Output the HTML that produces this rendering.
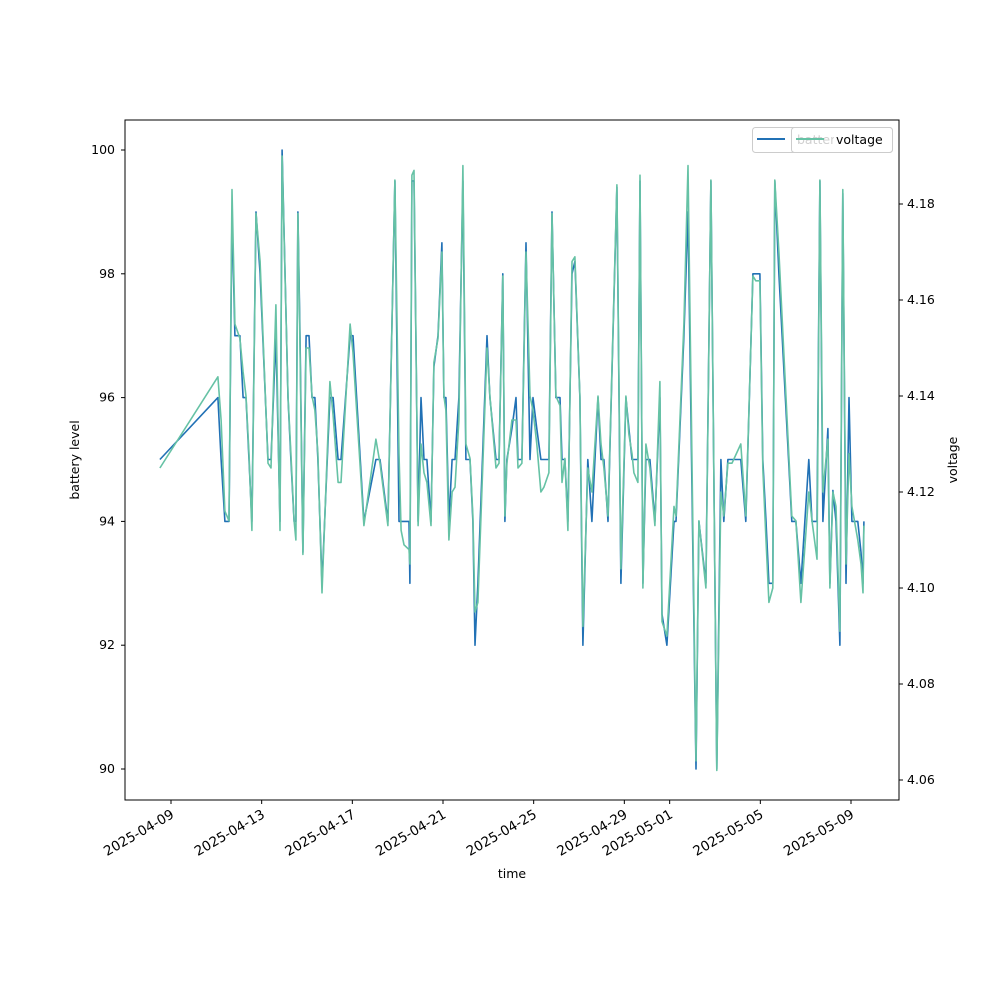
<!DOCTYPE html>
<html><head><meta charset="utf-8"><style>
body{margin:0;background:#fff;font-family:"Liberation Sans","DejaVu Sans",sans-serif}
svg text{font-family:"DejaVu Sans","Liberation Sans",sans-serif;font-size:12.5px;fill:#000}
svg text.xt{font-size:13.5px}
</style></head><body>
<svg id="chart" width="1000" height="1000" viewBox="0 0 1000 1000">
<rect x="0" y="0" width="1000" height="1000" fill="#fff"/>
<g id="series"></g>
<g id="axes"></g>
<rect x="125" y="120" width="774" height="680" fill="none" stroke="#000" stroke-width="1"/>
<text x="512" y="878" text-anchor="middle">time</text>
<text transform="translate(79,460) rotate(-90)" text-anchor="middle">battery level</text>
<text transform="translate(957,460) rotate(-90)" text-anchor="middle">voltage</text>
<g>
<rect x="752.5" y="127.5" width="140" height="25" rx="3" fill="#fff" fill-opacity="0.8" stroke="#ccc"/>
<line x1="757" y1="139" x2="785" y2="139" stroke="#2171b5" stroke-width="2"/>
<rect x="791.5" y="127.5" width="101" height="25" rx="3" fill="#fff" fill-opacity="0.8" stroke="#ccc"/>
<text x="797" y="144" style="fill:#d0d0d0">battery_level</text>
<line x1="796" y1="139" x2="824" y2="139" stroke="#66c2a5" stroke-width="2"/>
<rect x="834" y="130" width="56" height="19" fill="#fff"/>
<text x="836" y="144">voltage</text>
</g>
</svg>
<script>
const days=[8.51,11.07,11.21,11.38,11.56,11.69,11.82,12.04,12.18,12.31,12.44,12.57,12.75,12.93,13.28,13.41,13.63,13.81,13.90,14.16,14.29,14.43,14.51,14.60,14.69,14.82,14.96,15.09,15.22,15.35,15.48,15.66,16.01,16.15,16.37,16.50,16.90,17.03,17.51,18.04,18.22,18.57,18.88,19.06,19.15,19.28,19.50,19.54,19.63,19.72,19.90,20.03,20.16,20.29,20.47,20.60,20.78,20.95,21.04,21.13,21.26,21.40,21.53,21.70,21.88,22.01,22.19,22.32,22.41,22.54,22.94,23.07,23.34,23.47,23.64,23.73,23.82,24.04,24.22,24.31,24.48,24.66,24.84,24.97,25.14,25.32,25.45,25.67,25.81,25.98,26.16,26.25,26.38,26.51,26.69,26.82,27.04,27.17,27.39,27.57,27.84,27.97,28.10,28.28,28.67,28.85,29.07,29.20,29.34,29.42,29.60,29.69,29.82,29.95,30.13,30.35,30.57,30.66,30.88,31.19,31.28,31.63,31.81,32.16,32.29,32.60,32.82,33.08,33.26,33.39,33.57,33.75,34.14,34.36,34.67,34.80,34.98,35.11,35.25,35.38,35.55,35.64,35.82,36.39,36.57,36.79,37.14,37.28,37.50,37.63,37.76,37.98,38.07,38.20,38.34,38.51,38.64,38.78,38.91,39.04,39.30,39.44,39.53,39.57];
const battery=[95,96,95,94,94,99,97,97,96,96,95,94,99,98,95,95,97,94,100,96,95,94,94,99,97,93.5,97,97,96,96,95,93,96,96,95,95,97,97,94,95,95,94,99.5,94,94,94,94,93,99.5,99.5,94,96,95,95,94,96.5,97,98.5,96,96,94,95,95,96,99.5,95,95,94,92,93,97,96,95,95,98,94,95,95.5,96,95,95,98.5,95,96,95.5,95,95,95,99,96,96,95,95,94,98,98.2,96,92,95,94,96,95,95,94,99.4,93,96,95.5,95,95,95,99.5,93,95,95,94,96,92.5,92,94,94,97,99,90,94,93,99.5,90,95,94,95,95,95,94,98,98,98,95,94,93,93,99.5,98,94,94,93,95,94,94,99.5,94,95.5,93,94.5,94,92,99.3,93,96,94,94,93.5,93,94];
const voltage=[4.125,4.144,4.135,4.116,4.114,4.183,4.155,4.152,4.145,4.140,4.128,4.112,4.178,4.168,4.126,4.125,4.159,4.112,4.190,4.140,4.128,4.114,4.110,4.178,4.150,4.107,4.150,4.150,4.140,4.137,4.128,4.099,4.143,4.136,4.122,4.122,4.155,4.149,4.113,4.131,4.126,4.113,4.185,4.128,4.112,4.109,4.108,4.105,4.186,4.187,4.113,4.130,4.124,4.122,4.113,4.147,4.152,4.170,4.140,4.137,4.110,4.120,4.121,4.135,4.188,4.130,4.127,4.115,4.095,4.097,4.150,4.140,4.125,4.126,4.165,4.115,4.126,4.135,4.135,4.125,4.126,4.170,4.140,4.137,4.130,4.120,4.121,4.124,4.178,4.140,4.138,4.122,4.127,4.112,4.168,4.169,4.140,4.092,4.125,4.120,4.140,4.130,4.125,4.115,4.184,4.104,4.140,4.132,4.128,4.124,4.122,4.186,4.100,4.130,4.125,4.113,4.143,4.093,4.090,4.117,4.115,4.155,4.188,4.064,4.114,4.100,4.185,4.062,4.120,4.115,4.126,4.126,4.130,4.115,4.165,4.164,4.164,4.125,4.110,4.097,4.100,4.185,4.170,4.115,4.114,4.097,4.120,4.114,4.106,4.185,4.120,4.131,4.100,4.120,4.117,4.091,4.183,4.105,4.128,4.117,4.110,4.105,4.099,4.113];
const xTickDays=[9,13,17,21,25,29,31,35,39];
const xTickLabels=["2025-04-09","2025-04-13","2025-04-17","2025-04-21","2025-04-25","2025-04-29","2025-05-01","2025-05-05","2025-05-09"];
const leftTicks=[90,92,94,96,98,100];
const rightTicks=[4.06,4.08,4.10,4.12,4.14,4.16,4.18];

const NS="http://www.w3.org/2000/svg";
const xScale=d=>171+(d-9)*(680/30);
const yLeft=b=>150+(100-b)*61.9;
const yRight=v=>204+(4.18-v)*4800;
const ser=document.getElementById('series'),ax=document.getElementById('axes');
function mk(tag,attrs,parent){const e=document.createElementNS(NS,tag);for(const k in attrs)e.setAttribute(k,attrs[k]);parent.appendChild(e);return e;}
const bp=mk('polyline',{points:days.map((d,i)=>xScale(d).toFixed(1)+','+yLeft(battery[i]).toFixed(1)).join(' '),fill:'none',stroke:'#2171b5','stroke-width':1.6,'stroke-linejoin':'round'},ser);


const vp=mk('polyline',{points:days.map((d,i)=>xScale(d).toFixed(1)+','+yRight(voltage[i]).toFixed(1)).join(' '),fill:'none',stroke:'#66c2a5','stroke-width':1.6,'stroke-linejoin':'round'},ser);


xTickDays.forEach((d,i)=>{const x=xScale(d);
 const t=mk('line',{x1:x,y1:800,x2:x,y2:804,stroke:'#000'},ax);
 
 
 const l=mk('text',{transform:`translate(${x+4},817) rotate(-30)`,'text-anchor':'end','class':'xt'},ax);l.textContent=xTickLabels[i];
 
 });
leftTicks.forEach(v=>{const y=yLeft(v);
 const t=mk('line',{x1:121,y1:y,x2:125,y2:y,stroke:'#000'},ax);
 
 
 const l=mk('text',{x:115,y:y+4,'text-anchor':'end'},ax);l.textContent=String(v);
 
 });
rightTicks.forEach(v=>{const y=yRight(v);
 const t=mk('line',{x1:899,y1:y,x2:903,y2:y,stroke:'#000'},ax);
 
 
 const l=mk('text',{x:907,y:y+4},ax);l.textContent=v.toFixed(2);
 
 });
</script>
</body></html>
